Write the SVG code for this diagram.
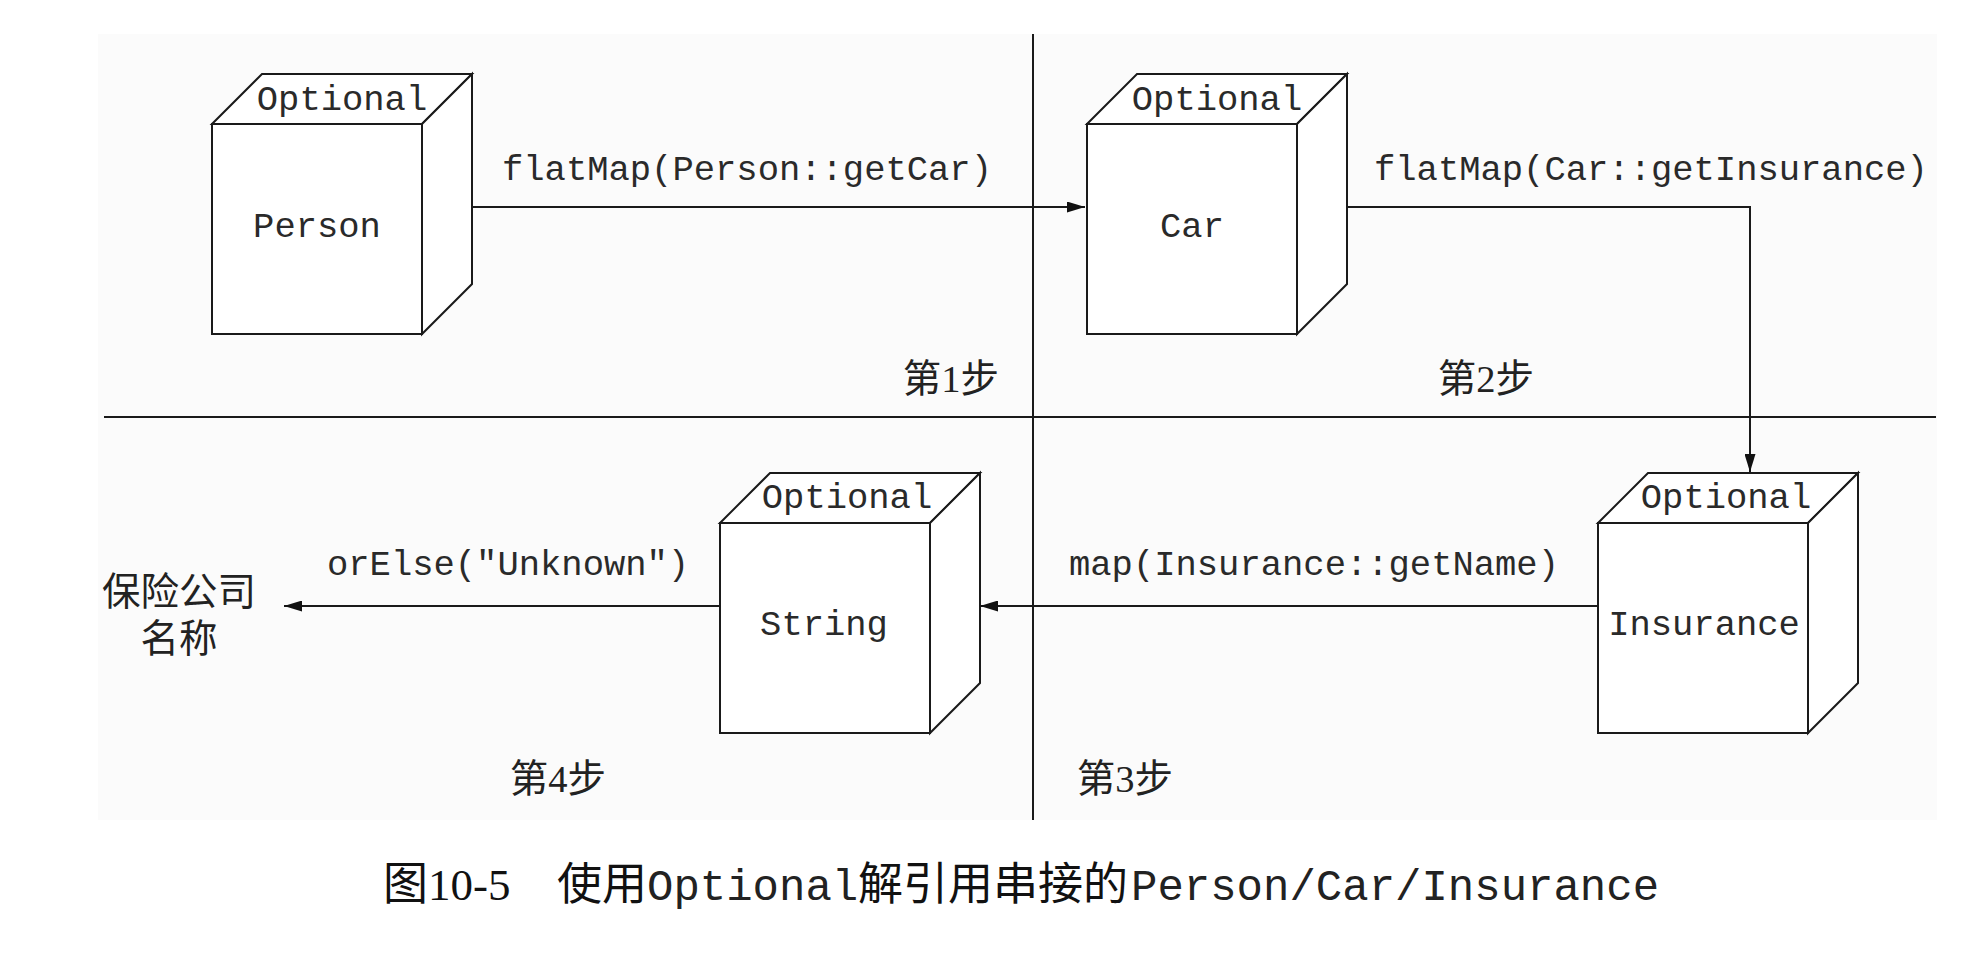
<svg xmlns="http://www.w3.org/2000/svg" xmlns:xlink="http://www.w3.org/1999/xlink" width="1980" height="966" viewBox="0 0 1980 966">
<style>
.bg{fill:#fbfbfb}
.div{stroke:#1a1a1a;stroke-width:2;fill:none}
.face{fill:#ffffff;stroke:#1a1a1a;stroke-width:2;stroke-linejoin:miter}
.mono{font-family:"Liberation Mono","DejaVu Sans Mono",monospace;font-size:35.5px;fill:#2a2a2a}
.cjk{font-family:"Liberation Serif","Noto Sans CJK SC",serif;font-size:38.5px;fill:#222}
.conn{stroke:#1a1a1a;stroke-width:2;fill:none;marker-end:url(#arr)}
.cap{font-family:"Liberation Serif","Noto Sans CJK SC",serif;font-size:45px;fill:#111}
.capm{font-family:"Liberation Mono","DejaVu Sans Mono",monospace;font-size:44px;fill:#222}
</style>
<defs>
<marker id="arr" markerUnits="userSpaceOnUse" markerWidth="18" markerHeight="11" refX="18" refY="5.5" orient="auto">
<path d="M0,0 L18,5.5 L0,11 Z" fill="#111"/>
</marker>
<g id="box">
<rect class="face" x="0" y="50" width="210" height="210"/>
<polygon class="face" points="0,50 50,0 260,0 210,50"/>
<polygon class="face" points="210,50 260,0 260,210 210,260"/>
</g>
</defs>
<rect width="1980" height="966" fill="#ffffff"/>
<rect class="bg" x="98" y="34" width="1839" height="786"/>
<g id="dividers">
<line class="div" x1="1033" y1="34" x2="1033" y2="820"/>
<line class="div" x1="104" y1="417" x2="1936" y2="417"/>
</g>
<g id="person" transform="translate(212,74)">
<use xlink:href="#box"/>
<text class="mono" x="130" y="36" text-anchor="middle">Optional</text>
<text class="mono" x="105" y="163" text-anchor="middle">Person</text>
</g>
<g id="car" transform="translate(1087,74)">
<use xlink:href="#box"/>
<text class="mono" x="130" y="36" text-anchor="middle">Optional</text>
<text class="mono" x="105" y="163" text-anchor="middle">Car</text>
</g>
<g id="insurance" transform="translate(1598,473)">
<use xlink:href="#box"/>
<text class="mono" x="128" y="35" text-anchor="middle">Optional</text>
<text class="mono" x="106" y="162" text-anchor="middle">Insurance</text>
</g>
<g id="string" transform="translate(720,473)">
<use xlink:href="#box"/>
<text class="mono" x="127" y="35" text-anchor="middle">Optional</text>
<text class="mono" x="104" y="162" text-anchor="middle">String</text>
</g>
<g id="result">
<text class="cjk" x="179" y="605" text-anchor="middle">保险公司</text>
<text class="cjk" x="179" y="652" text-anchor="middle">名称</text>
</g>
<g id="connectors">
<path class="conn" d="M473,207 H1085"/>
<path class="conn" d="M1347,207 H1750 V472"/>
<path class="conn" d="M1598,606 H980"/>
<path class="conn" d="M720,606 H284"/>
<text class="mono" x="502" y="180">flatMap(Person::getCar)</text>
<text class="mono" x="1374" y="180">flatMap(Car::getInsurance)</text>
<text class="mono" x="1069" y="575">map(Insurance::getName)</text>
<text class="mono" x="327" y="575">orElse("Unknown")</text>
</g>
<g id="steps">
<text class="cjk" x="951" y="392" text-anchor="middle">第1步</text>
<text class="cjk" x="1486" y="392" text-anchor="middle">第2步</text>
<text class="cjk" x="1125" y="792" text-anchor="middle">第3步</text>
<text class="cjk" x="558" y="792" text-anchor="middle">第4步</text>
</g>
<g id="caption">
<text class="cap" y="900"><tspan x="383">图10-5</tspan><tspan x="557">使用</tspan><tspan class="capm" x="647">Optional</tspan><tspan x="858">解引用串接的</tspan><tspan class="capm" x="1131" font-size="43.5">Person/Car/Insurance</tspan></text>
</g>
</svg>
